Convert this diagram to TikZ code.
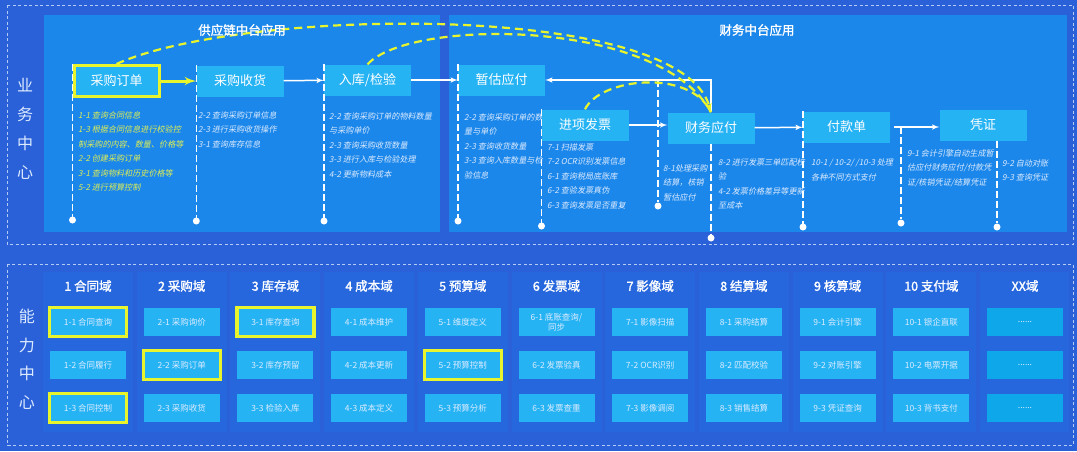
\documentclass[tikz,border=0pt]{standalone}
\usepackage{fontspec}
\setmainfont{Noto Sans CJK SC}
\newfontfamily\notefont[FakeSlant=0.2]{Noto Sans CJK SC}
\newfontfamily\headfont[FakeBold=1.5]{Noto Sans CJK SC}
\usepackage{xcolor}
\usetikzlibrary{arrows, positioning}

\definecolor{bgblue}{HTML}{2B61D8}
\definecolor{panelblue}{HTML}{1C87EA}
\definecolor{paneblue}{HTML}{2767DD}
\definecolor{boxblue}{HTML}{25B3F4}
\definecolor{xxblue}{HTML}{0EA8EA}
\definecolor{hiyellow}{HTML}{E8F52C}
\definecolor{noteyellow}{HTML}{DDEE55}
\definecolor{notewhite}{HTML}{DCEBFF}
\definecolor{zoneblue}{HTML}{B3CCF5}

\tikzset{
  stage/.style={fill=boxblue, text=white, minimum width=87pt, minimum height=31pt, inner sep=0pt, font=\fontsize{13}{15}\selectfont},
  hilite/.style={draw=hiyellow, line width=3pt},
  cell/.style={fill=boxblue, text=notewhite, minimum width=76pt, minimum height=28pt, inner sep=0pt, align=center, font=\fontsize{8.5}{10}\selectfont},
  cellx/.style={cell, fill=xxblue},
  pick/.style={cell, draw=hiyellow, line width=3.2pt, minimum width=77pt, minimum height=29pt},
  head/.style={text=white, font=\headfont\fontsize{12.5}{14}\selectfont},
  note/.style={anchor=north west, inner sep=0pt, align=left, text=notewhite, font=\notefont\fontsize{8.1}{14.5}\selectfont},
  side/.style={text=notewhite, align=center, font=\fontsize{16}{29}\selectfont},
  flow/.style={draw=white, line width=1.5pt, -latex'},
  bigflow/.style={draw=hiyellow, line width=3pt, -latex'},
  hint/.style={draw=hiyellow, line width=2.2pt, dash pattern=on 8pt off 5pt},
  guide/.style={draw=white, line width=1.6pt, dash pattern=on 7pt off 3pt},
  knob/.style={circle, fill=white, inner sep=0pt, minimum size=7pt},
  zone/.style={draw=zoneblue, line width=1pt, dash pattern=on 3pt off 2.5pt},
}

\begin{document}
\begin{tikzpicture}[x=1pt, y=-1pt, node distance=43pt]
\useasboundingbox (0,0) rectangle (1077,451);
\fill[bgblue] (0,0) rectangle (1077,451);

% business center
\draw[zone] (7,5) rectangle (1073,244);
\fill[panelblue] (44,15) rectangle (440,232);
\fill[panelblue] (449,15) rectangle (1067,232);
\node[side] (BIZ) at (25,128.5) {业\\务\\中\\心};

\node[note, text=noteyellow] (N1) at (78,111) {1-1 查询合同信息\\1-3 根据合同信息进行校验控\\制采购的内容、数量、价格等\\2-2 创建采购订单\\3-1 查询物料和历史价格等\\5-2 进行预算控制};
\node[note] (N2) at (198,111) {2-2 查询采购订单信息\\2-3 进行采购收货操作\\3-1 查询库存信息};
\node[note] (N3) at (329,112) {2-2 查询采购订单的物料数量\\与采购单价\\2-3 查询采购收货数量\\3-3 进行入库与检验处理\\4-2 更新物料成本};
\node[note] (N4) at (464,113) {2-2 查询采购订单的数\\量与单价\\2-3 查询收货数量\\3-3 查询入库数量与检\\验信息};
\node[note] (N5) at (547,143) {7-1 扫描发票\\7-2 OCR识别发票信息\\6-1 查询税局底账库\\6-2 查验发票真伪\\6-3 查询发票是否重复};
\node[note] (N6) at (663,164) {8-1处理采购\\结算，核销\\暂估应付};
\node[note] (N7) at (718,158) {8-2 进行发票三单匹配校\\验\\4-2 发票价格差异等更新\\至成本};
\node[note] (N8) at (811,159) {10-1 / 10-2/ /10-3 处理\\各种不同方式支付};
\node[note] (N9) at (907,149) {9-1 会计引擎自动生成暂\\估应付财务应付/付款凭\\证/核销凭证/结算凭证};
\node[note] (N10) at (1002,159) {9-2 自动对账\\9-3 查询凭证};

\node[stage, hilite, minimum width=85pt] (PO) at (116.5,81) {采购订单};
\node[stage] (GR) at (240,81) {采购收货};
\node[stage] (QC) at (367.5,80) {入库/检验};
\node[stage] (EST) at (501.5,80) {暂估应付};
\node[stage] (VAT) at (585,125) {进项发票};
\node[stage] (AP) at (711,128) {财务应付};
\node[stage] (PAY) at (846.5,127) {付款单};
\node[stage] (VOU) at (983,125) {凭证};

\node[knob] (K1) at (72.5,220) {};
\node[knob] (K2) at (196.3,221) {};
\node[knob] (K3) at (324,221) {};
\node[knob] (K4) at (458,221) {};
\node[knob] (K5) at (541.5,226) {};
\node[knob] (K6) at (658,206) {};
\node[knob] (K7) at (711,238) {};
\node[knob] (K8) at (803,227) {};
\node[knob] (K9) at (901,223) {};
\node[knob] (K10) at (997,227) {};

\draw[guide] (PO.north west) -- (PO.north west |- K1);
\draw[guide] (GR.north west) -- (GR.north west |- K2);
\draw[guide] (QC.north west) -- (QC.north west |- K3);
\draw[guide] (EST.north west) -- (EST.north west |- K4);
\draw[guide] (VAT.north west) -- (VAT.north west |- K5);
\draw[guide] (EST.east -| K6) -- (K6);
\draw[guide] (AP.south) -- (K7);
\draw[guide] (PAY.north west) -- (PAY.north west |- K8);
\draw[guide] (PAY.east -| K9) -- (K9);
\draw[guide] (VOU.south -| K10) -- (K10);

\draw[bigflow] (PO) -- (GR);
\draw[flow] (GR) -- (QC);
\draw[flow] (QC) -- (EST);
\draw[flow] (AP.north) |- (EST.east);
\draw[flow] (VAT.east) -- (VAT.east -| AP.west);
\draw[flow] (AP) -- (PAY);
\draw[flow, shorten <=4pt] (PAY.east) -- (PAY.east -| VOU.west);

\draw[hint] (QC.north) .. controls (410,18) and (660,18) .. (AP.north);
\draw[hint] (VAT.north) .. controls (600,78) and (690,68) .. (AP.north);
\draw[hint, -latex'] (PO.north) .. controls (240,8) and (680,0) .. (AP.north);

\node[head] (SCM) at (242,30) {供应链中台应用};
\node[head] (FIN) at (757,30) {财务中台应用};

% capability center
\draw[zone] (7,264) rectangle (1073,445);
\fill[paneblue] (43,272) rectangle (133,432);
\fill[paneblue] (136.7,272) rectangle (226.7,432);
\fill[paneblue] (230.4,272) rectangle (320.4,432);
\fill[paneblue] (324.1,272) rectangle (414.1,432);
\fill[paneblue] (417.8,272) rectangle (507.8,432);
\fill[paneblue] (511.5,272) rectangle (601.5,432);
\fill[paneblue] (605.2,272) rectangle (695.2,432);
\fill[paneblue] (698.9,272) rectangle (788.9,432);
\fill[paneblue] (792.6,272) rectangle (882.6,432);
\fill[paneblue] (886.3,272) rectangle (976.3,432);
\fill[paneblue] (980,272) rectangle (1069,432);
\node[side, font=\fontsize{16}{28.5}\selectfont] (CAP) at (27,359.5) {能\\力\\中\\心};

\node[pick] (A1) at (88,322) {1-1 合同查询};
\node[cell, below of=A1] (A2) {1-2 合同履行};
\node[pick, below of=A2] (A3) {1-3 合同控制};
\node[head, above of=A1, node distance=36pt] (A0) {1 合同域};

\node[cell, right of=A1, node distance=93.7pt] (B1) {2-1 采购询价};
\node[pick, below of=B1] (B2) {2-2 采购订单};
\node[cell, below of=B2] (B3) {2-3 采购收货};
\node[head, above of=B1, node distance=36pt] (B0) {2 采购域};

\node[pick, right of=B1, node distance=93.7pt] (C1) {3-1 库存查询};
\node[cell, below of=C1] (C2) {3-2 库存预留};
\node[cell, below of=C2] (C3) {3-3 检验入库};
\node[head, above of=C1, node distance=36pt] (C0) {3 库存域};

\node[cell, right of=C1, node distance=93.7pt] (D1) {4-1 成本维护};
\node[cell, below of=D1] (D2) {4-2 成本更新};
\node[cell, below of=D2] (D3) {4-3 成本定义};
\node[head, above of=D1, node distance=36pt] (D0) {4 成本域};

\node[cell, right of=D1, node distance=93.7pt] (E1) {5-1 维度定义};
\node[pick, below of=E1] (E2) {5-2 预算控制};
\node[cell, below of=E2] (E3) {5-3 预算分析};
\node[head, above of=E1, node distance=36pt] (E0) {5 预算域};

\node[cell, right of=E1, node distance=93.7pt] (F1) {6-1 底账查询/\\同步};
\node[cell, below of=F1] (F2) {6-2 发票验真};
\node[cell, below of=F2] (F3) {6-3 发票查重};
\node[head, above of=F1, node distance=36pt] (F0) {6 发票域};

\node[cell, right of=F1, node distance=93.7pt] (G1) {7-1 影像扫描};
\node[cell, below of=G1] (G2) {7-2 OCR识别};
\node[cell, below of=G2] (G3) {7-3 影像调阅};
\node[head, above of=G1, node distance=36pt] (G0) {7 影像域};

\node[cell, right of=G1, node distance=93.7pt] (H1) {8-1 采购结算};
\node[cell, below of=H1] (H2) {8-2 匹配校验};
\node[cell, below of=H2] (H3) {8-3 销售结算};
\node[head, above of=H1, node distance=36pt] (H0) {8 结算域};

\node[cell, right of=H1, node distance=93.7pt] (I1) {9-1 会计引擎};
\node[cell, below of=I1] (I2) {9-2 对账引擎};
\node[cell, below of=I2] (I3) {9-3 凭证查询};
\node[head, above of=I1, node distance=36pt] (I0) {9 核算域};

\node[cell, right of=I1, node distance=93.7pt] (J1) {10-1 银企直联};
\node[cell, below of=J1] (J2) {10-2 电票开据};
\node[cell, below of=J2] (J3) {10-3 背书支付};
\node[head, above of=J1, node distance=36pt] (J0) {10 支付域};

\node[cellx, right of=J1, node distance=93.7pt] (L1) {......};
\node[cellx, below of=L1] (L2) {......};
\node[cellx, below of=L2] (L3) {......};
\node[head, above of=L1, node distance=36pt] (L0) {XX域};
\end{tikzpicture}
\end{document}
